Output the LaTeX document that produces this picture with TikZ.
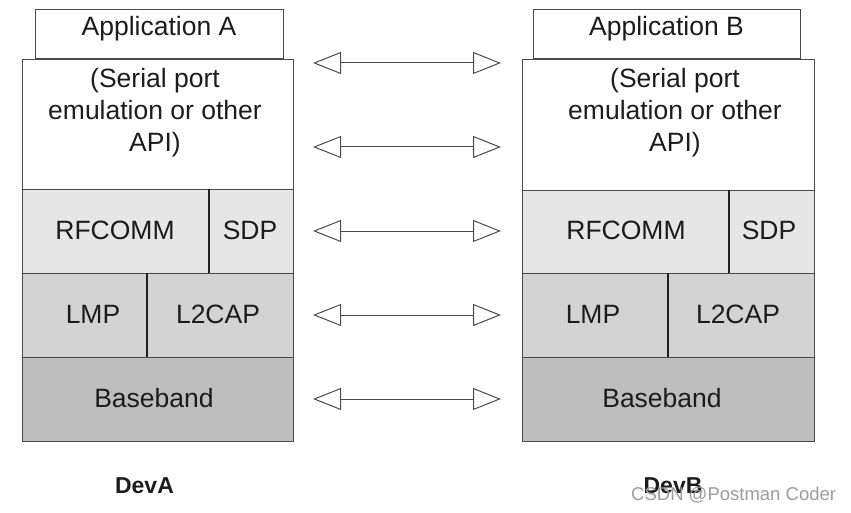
\documentclass[tikz,border=0pt]{standalone}
\usepackage{fontspec}
\setmainfont{Liberation Sans}
\usetikzlibrary{arrows.meta}
\definecolor{edge}{HTML}{4A4A4A}
\definecolor{inner}{HTML}{202020}
\definecolor{fillA}{HTML}{E6E6E6}
\definecolor{fillB}{HTML}{D3D3D3}
\definecolor{fillC}{HTML}{BEBEBE}
\definecolor{txt}{HTML}{1C1C1C}
\definecolor{wm}{HTML}{9C9C9C}
\tikzset{
  box/.style={draw=edge, line width=1.3pt, inner sep=0pt, anchor=north west},
  lbl/.style={anchor=base, inner sep=0pt, text=txt, font=\fontsize{26.5}{32}\selectfont},
  dev/.style={anchor=base, inner sep=0pt, text=txt, font=\fontsize{23}{27}\selectfont\bfseries},
  biarrow/.style={draw=edge, line width=1pt,
    {Triangle[open, length=28pt, width=22pt, line width=1pt]}-{Triangle[open, length=28pt, width=22pt, line width=1pt]}},
}
\begin{document}
\begin{tikzpicture}[x=1pt, y=-1pt]
\useasboundingbox (0,0) rectangle (851,513);
% ---------- Device A ----------
\node[box, minimum width=248, minimum height=49] (appA) at (35,9) {};
\node[box, minimum width=271, minimum height=130] (apiA) at (22,59) {};
\node[box, fill=fillA, minimum width=271, minimum height=84] (rowRA) at (22,189) {};
\node[box, fill=fillB, minimum width=271, minimum height=84] (rowLA) at (22,273) {};
\node[box, fill=fillC, minimum width=271, minimum height=84] (bbA) at (22,357) {};
\coordinate (dRA) at (209,189);
\coordinate (dRAb) at (209,273);
\coordinate (dLA) at (147,273);
\coordinate (dLAb) at (147,357);
\draw[inner, line width=1.1pt] (dRA) -- (dRAb);
\draw[inner, line width=1.1pt] (dLA) -- (dLAb);
\node[lbl] (tAppA) at (159,36) {Application A};
\node[lbl] (tApiA1) at (155,88) {(Serial port};
\node[lbl] (tApiA2) at (155,120) {emulation or other};
\node[lbl] (tApiA3) at (155,152) {API)};
\node[lbl] (tRfA) at (115,239) {RFCOMM};
\node[lbl] (tSdpA) at (250,239) {SDP};
\node[lbl] (tLmpA) at (93,323) {LMP};
\node[lbl] (tL2A) at (218,323) {L2CAP};
\node[lbl] (tBbA) at (154,407) {Baseband};
\node[dev] (devA) at (144.5,493) {DevA};
% ---------- Device B ----------
\node[box, minimum width=267, minimum height=49] (appB) at (533,9) {};
\node[box, minimum width=292, minimum height=131] (apiB) at (522,59) {};
\node[box, fill=fillA, minimum width=292, minimum height=83] (rowRB) at (522,190) {};
\node[box, fill=fillB, minimum width=292, minimum height=84] (rowLB) at (522,273) {};
\node[box, fill=fillC, minimum width=292, minimum height=84] (bbB) at (522,357) {};
\coordinate (dRB) at (729,190);
\coordinate (dRBb) at (729,273);
\coordinate (dLB) at (668,273);
\coordinate (dLBb) at (668,357);
\draw[inner, line width=1.1pt] (dRB) -- (dRBb);
\draw[inner, line width=1.1pt] (dLB) -- (dLBb);
\node[lbl] (tAppB) at (666.5,36) {Application B};
\node[lbl] (tApiB1) at (675,88) {(Serial port};
\node[lbl] (tApiB2) at (675,120) {emulation or other};
\node[lbl] (tApiB3) at (675,152) {API)};
\node[lbl] (tRfB) at (626,239) {RFCOMM};
\node[lbl] (tSdpB) at (769,239) {SDP};
\node[lbl] (tLmpB) at (593,323) {LMP};
\node[lbl] (tL2B) at (738,323) {L2CAP};
\node[lbl] (tBbB) at (662,407) {Baseband};
\node[dev] (devB) at (673,493) {DevB};
% ---------- arrows ----------
\foreach \i/\yy in {1/63,2/147,3/231,4/315,5/399}{
  \coordinate (aL\i) at (313,\yy);
  \coordinate (aR\i) at (501,\yy);
  \draw[biarrow] (aL\i) -- (aR\i);
}
% ---------- watermark ----------
\node[anchor=base west, inner sep=0pt, text=wm, font=\fontsize{18.5}{22}\selectfont] (wmark) at (631,500) {CSDN @Postman Coder};
\end{tikzpicture}
\end{document}
